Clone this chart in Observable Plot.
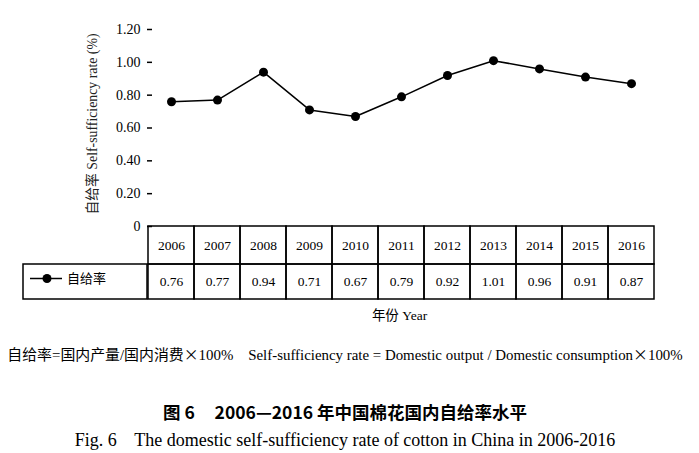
<!DOCTYPE html>
<html>
<head>
<meta charset="utf-8">
<script src="https://cdn.jsdelivr.net/npm/d3@7"></script>
<script src="https://cdn.jsdelivr.net/npm/@observablehq/plot@0.6"></script>
<style>
  body { margin: 0; background: #fff; width: 699px; height: 453px; position: relative; overflow: hidden; }
  #chart { position: absolute; left: 0; top: 0; }
  .cap { position: absolute; left: 0; width: 690px; text-align: center; white-space: pre; color: #000; }
  .serif { font-family: "Liberation Serif", "Noto Sans CJK SC", serif; }
  .cjk { font-family: "Noto Sans CJK SC", sans-serif; }
</style>
</head>
<body>
<div id="chart"></div>
<div class="cap serif" id="formula" style="top:344px; line-height:20px; font-size:14.9px;"><span class="cjk">自给率</span>=<span class="cjk">国内产量</span>/<span class="cjk">国内消费×</span>100%    Self-sufficiency rate = Domestic output / Domestic consumption<span class="cjk">×</span>100%</div>
<div class="cap cjk" id="titleZh" style="top:401px; line-height:22px; font-size:17.5px; font-weight:bold;">图 6     2006—2016 年中国棉花国内自给率水平</div>
<div class="cap serif" id="titleEn" style="top:429px; line-height:22px; font-size:18px;">Fig. 6    The domestic self-sufficiency rate of cotton in China in 2006-2016</div>
<script>
const years = [2006, 2007, 2008, 2009, 2010, 2011, 2012, 2013, 2014, 2015, 2016];
const rates = [0.76, 0.77, 0.94, 0.71, 0.67, 0.79, 0.92, 1.01, 0.96, 0.91, 0.87];
const yTicks = [0, 0.2, 0.4, 0.6, 0.8, 1.0, 1.2];
const seriesName = "自给率";
const yLabel = "自给率 Self-sufficiency rate (%)";
const xLabel = "年份 Year";

const data = years.map((year, i) => ({year, value: rates[i]}));

const W = 699, H = 330;
const mTop = 29, mBottom = 104, mLeft = 147, mRight = 44;
const yMax = 1.2;
const pxPerUnit = (H - mTop - mBottom) / yMax;
const u = px => px / pxPerUnit;           // pixel distance -> y units
const row1 = 38, row2 = 35;                 // table row heights (px)
const serif = "'Liberation Serif', 'Noto Sans CJK SC', serif";

const legendCell = (index, scales, values, dims) => {
  const y0 = scales.y(0);
  const g = d3.create("svg:g");
  const top = y0 + row1, h = row2, left = 23;
  g.append("rect").attr("x", left).attr("y", top).attr("width", dims.marginLeft - left).attr("height", h)
    .attr("fill", "none").attr("stroke", "#000").attr("stroke-width", 1.5);
  const cy = top + h / 2 - 3;
  g.append("line").attr("x1", 30).attr("x2", 62).attr("y1", cy).attr("y2", cy)
    .attr("stroke", "#000").attr("stroke-width", 1.5);
  g.append("circle").attr("cx", 47).attr("cy", cy).attr("r", 4.5).attr("fill", "#000");
  g.append("text").attr("x", 67).attr("y", cy).attr("dy", "0.35em").attr("text-anchor", "start")
    .attr("font-family", "'Noto Sans CJK SC', sans-serif").attr("font-size", 13).attr("fill", "#000")
    .text(seriesName);
  return g.node();
};

const chart = Plot.plot({
  width: W, height: H,
  marginTop: mTop, marginBottom: mBottom, marginLeft: mLeft, marginRight: mRight,
  style: {fontFamily: serif, fontSize: "14px", color: "#000", background: "#fff"},
  x: {type: "band", domain: years, padding: 0, axis: null},
  y: {domain: [0, yMax], axis: null},
  marks: [
    Plot.axisY({ticks: yTicks, tickSize: 0, tickPadding: 7, line: true, strokeWidth: 1.5,
      tickFormat: d => d === 0 ? "0" : d.toFixed(2), fontSize: 14, fontFamily: serif, label: null}),
    Plot.ruleY(yTicks, {y: d => d, insetRight: W - mLeft - mRight - 5, strokeWidth: 1.5}),
    Plot.text([yLabel], {frameAnchor: "left", textAnchor: "middle", text: d => d, rotate: -90, dx: -55, dy: -4, fontSize: 13.8, fill: "#222"}),
    // table
    Plot.barY(data, {x: "year", y1: 0, y2: -u(row1), fill: "none", stroke: "#000", strokeWidth: 1.5}),
    Plot.barY(data, {x: "year", y1: -u(row1), y2: -u(row1 + row2), fill: "none", stroke: "#000", strokeWidth: 1.5}),
    Plot.text(data, {x: "year", y: 0, dy: row1 / 2, text: d => String(d.year), fontSize: 13.5}),
    Plot.text(data, {x: "year", y: 0, dy: row1 + row2 / 2, text: d => d.value.toFixed(2), fontSize: 13.5}),
    legendCell,
    Plot.text([xLabel], {frameAnchor: "bottom", text: d => d, dy: 93, dx: -2, fontSize: 13.5}),
    // series
    Plot.line(data, {x: "year", y: "value", stroke: "#000", strokeWidth: 1.5}),
    Plot.dot(data, {x: "year", y: "value", r: 4.5, fill: "#000"})
  ]
});
document.getElementById("chart").appendChild(chart);
</script>
</body>
</html>
